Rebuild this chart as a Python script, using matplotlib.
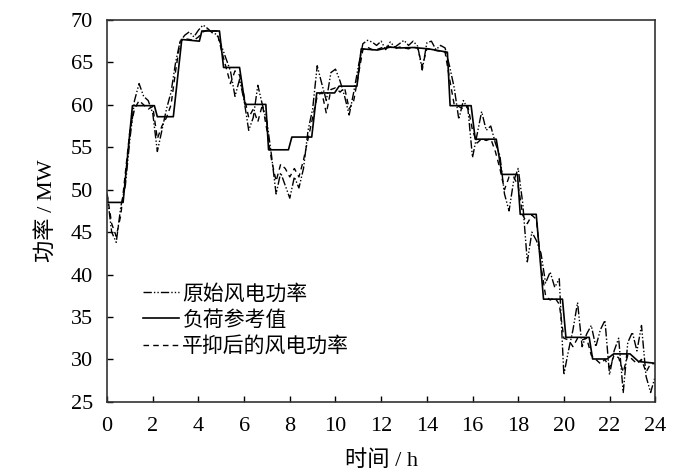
import matplotlib
matplotlib.use("Agg")
import matplotlib.pyplot as plt
import numpy as np

plt.rcParams['font.family'] = ['Liberation Serif', 'Noto Sans CJK SC']

# 负荷参考值 (阶梯) 的拐点
ref_t = [0, 0.70, 1.11, 2.07, 2.2, 2.9, 3.27, 4.04, 4.15, 4.92, 5.1, 5.8,
         6.04, 6.95, 7.07, 7.94, 8.09, 8.96, 9.18, 9.96, 10.16, 10.94, 11.13,
         11.83, 12.4, 12.83, 13.4, 14.06, 14.9, 15.02, 15.94, 16.12, 17.04,
         17.29, 17.97, 18.09, 18.79, 19.11, 19.94, 20.09, 21.11, 21.26, 21.89,
         22.18, 22.9, 23.27, 24]
ref_v = [48.5, 48.5, 59.9, 59.9, 58.6, 58.6, 67.7, 67.5, 68.7, 68.7, 64.4, 64.4,
         60.05, 60.05, 54.7, 54.7, 56.2, 56.2, 61.4, 61.4, 62.2, 62.2, 66.6,
         66.45, 66.8, 66.7, 66.75, 66.6, 66.2, 59.9, 59.9, 55.95, 55.95,
         51.8, 51.8, 47.1, 47.1, 37.1, 37.1, 32.6, 32.6, 30.05, 30.05,
         30.65, 30.65, 29.75, 29.55]

# 0.2 h 采样
t = np.arange(121) * 0.2

smooth = [49.5, 46, 44.5, 47, 52, 57, 59.5, 60.5, 60, 59.5,
          59.8, 56, 57.5, 58.5, 60, 64, 67.5, 67.8, 67.7, 67.6,
          68, 68.6, 68.8, 68.7, 68.7, 66.5, 64.5, 62.5, 64, 63.5,
          61, 58.5, 59.5, 58, 60, 57, 53.5, 51, 53, 52.5,
          51.5, 52.5, 51.5, 53.5, 56, 58.5, 61, 61.5, 59, 61.8,
          62, 61.5, 62, 59.5, 60.5, 63.5, 66.5, 66.8, 66.5, 66.5,
          66.7, 66.9, 66.8, 66.6, 66.8, 66.7, 66.6, 66.8, 66.7, 64.5,
          66.6, 66.5, 66.4, 66.3, 66.2, 63, 60, 59.8, 59.5, 59.8,
          57, 55.5, 56, 55.8, 56, 54.5, 52.5, 50, 51.5, 51.5,
          50.5, 47, 46, 47, 46.5, 41, 37.5, 37, 37.3, 36.5,
          32.5, 32.3, 31.5, 32.5, 32.3, 32.5, 30.5, 30, 29.5, 30,
          29, 30.5, 30.2, 28.5, 30.5, 30, 29.5, 30, 28.5, 29.5, 29.5]

raw = [49.5, 45, 43.8, 48, 50.5, 56, 60.5, 62.5, 61, 60.5,
       59, 54.5, 57, 59.5, 61.5, 65, 67.5, 68.2, 68.6, 68,
       68.8, 69.4, 69, 68.5, 68.3, 67, 65.5, 64, 61, 63,
       60.5, 57, 58.5, 62.3, 60, 58, 54, 49.5, 52, 50.5,
       49, 51.5, 50.2, 52.5, 57, 59.5, 64.6, 62.5, 60.5, 63.8,
       64.2, 62.8, 61, 58.8, 61.5, 64.5, 67.2, 67.6, 67.4, 67,
       67.5, 66.5, 67.4, 66.8, 67.2, 67.6, 67, 67.5, 66.9, 64.1,
       67.3, 67.5, 66.5, 67, 66.7, 64.5, 62, 58.3, 60.5, 59.5,
       53.8, 56.5, 59.2, 57, 57.5, 55.5, 54, 49.5, 47.5, 51,
       52.5, 48.4, 41.5, 45, 44, 42.5, 39, 40.3, 38.5, 39.5,
       28.2, 31, 33.5, 36.7, 31.5, 33, 34, 31.5, 33.5, 34.6,
       28.2, 31, 32.5, 26.1, 32, 33.2, 31, 34, 28, 26.1, 28]

fig = plt.figure(figsize=(7, 4.75), dpi=100)
ax = fig.add_axes([0.153, 0.154, 0.783, 0.804])

ax.plot(t, raw, color='black', lw=1.0, dashes=(6, 1.5, 1, 1.5, 1, 1.5),
        label='原始风电功率')
ax.plot(ref_t, ref_v, color='black', lw=1.2, label='负荷参考值')
ax.plot(t, smooth, color='black', lw=1.0, dashes=(4, 3),
        label='平抑后的风电功率')

ax.set_xlim(0, 24)
ax.set_ylim(25, 70)
ax.set_xticks(np.arange(0, 25, 2))
ax.set_yticks(np.arange(25, 71, 5))
ax.tick_params(direction='in', length=4, width=1, labelsize=16,
               top=False, right=False)
ax.tick_params(axis='x', pad=11)
ax.tick_params(axis='y', pad=10)
for s in ax.spines.values():
    s.set_linewidth(1.2)
    s.set_color('#333333')

ax.set_xlabel('时间 / h', fontsize=16, labelpad=10)
ax.set_ylabel('功率 / MW', fontsize=16, labelpad=10)

leg = ax.legend(loc='lower left', bbox_to_anchor=(0.05, 0.096), frameon=False,
                handlelength=1.75, handletextpad=0.15,
                labelspacing=0.2, borderaxespad=0,
                prop={'family': ['Noto Sans CJK SC'], 'size': 15})

fig.savefig('out.png', dpi=100, facecolor='white')
